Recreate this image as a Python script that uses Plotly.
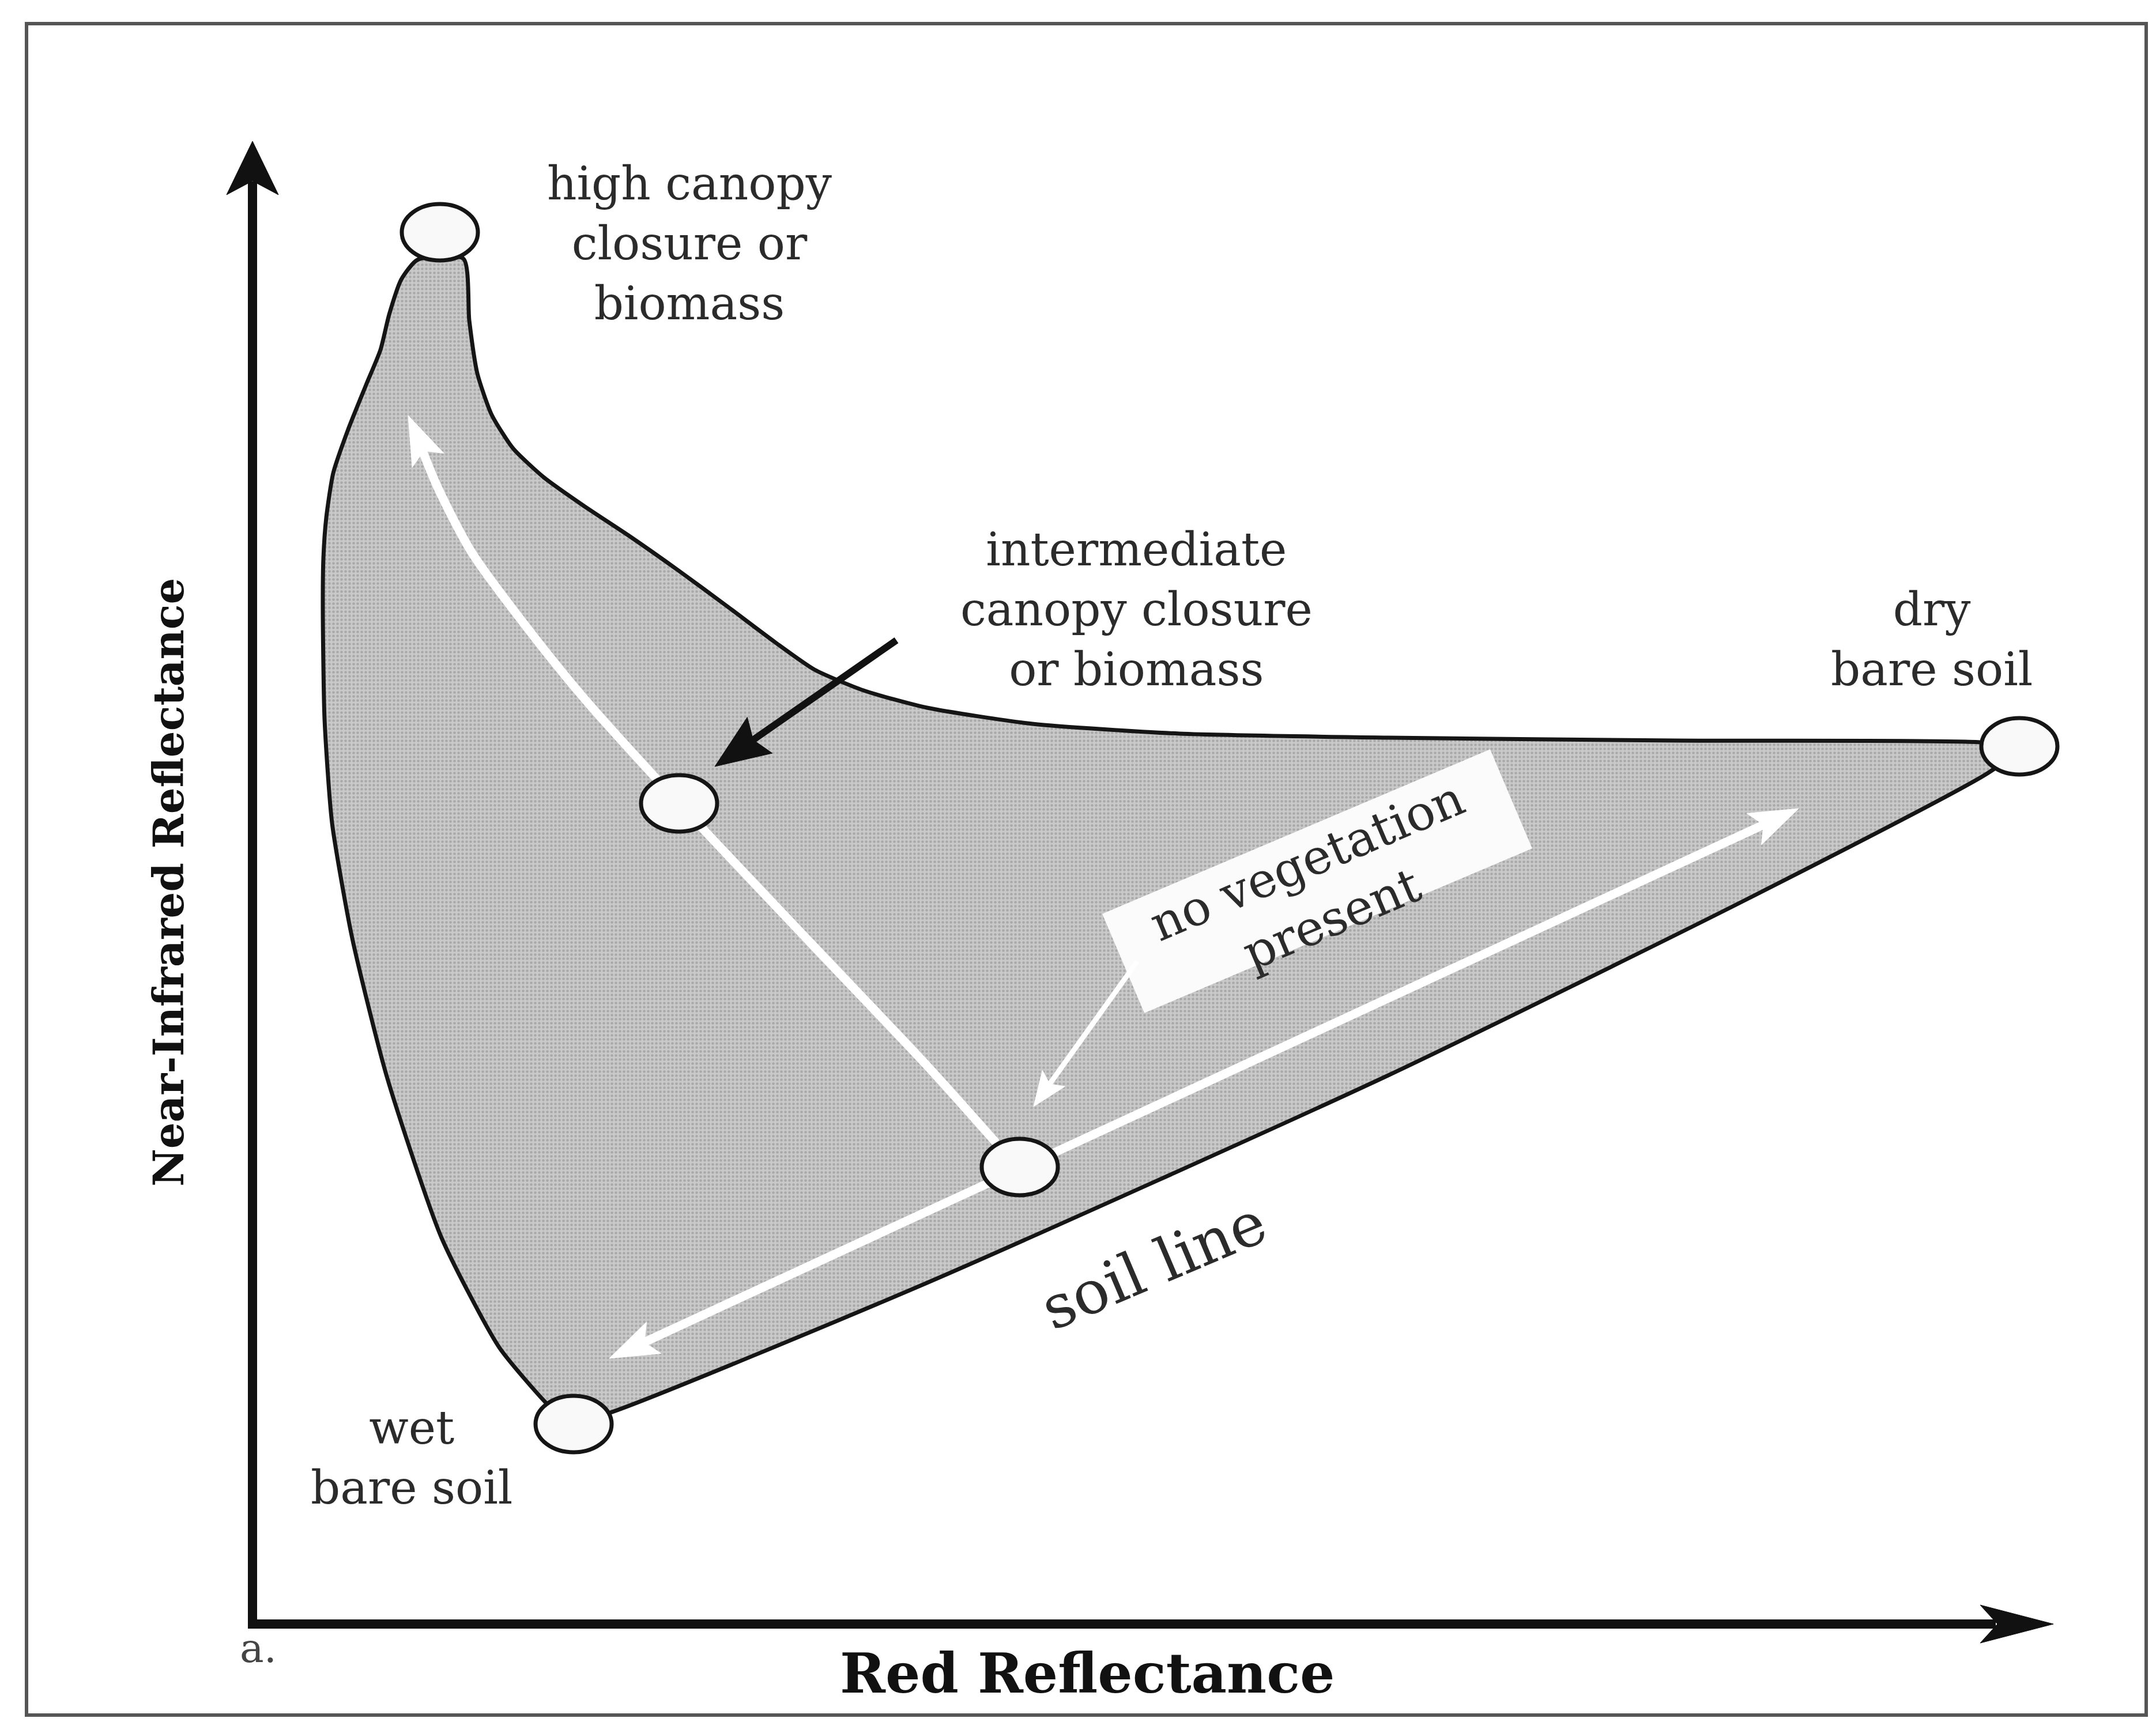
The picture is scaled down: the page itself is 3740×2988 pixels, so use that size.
import numpy as np
import plotly.graph_objects as go

W, H = 3740, 2988

# --- diagram data (x = red reflectance, y = near-infrared reflectance, figure units) ---
# outline of the vegetation / soil region: left edge, soil edge, upper edge
outline_x = [716, 688, 667, 652, 627, 596, 570, 558, 553, 552, 555, 568, 603, 663, 758, 858, 938, 975,
             1045, 1600, 2400, 3023, 3441, 3495,
             3430, 2900, 2400, 2038, 1783, 1600, 1490, 1405, 1336, 1252, 1169, 1085, 1005, 935, 882, 845,
             820, 806, 796]
outline_y = [2545, 2511, 2450, 2389, 2328, 2251, 2175, 2098, 2028, 1938, 1748, 1568, 1368, 1128, 848, 658, 563, 528,
             543, 770, 1130, 1436, 1655, 1698,
             1708, 1711, 1716, 1723, 1740, 1768, 1798, 1834, 1882, 1945, 2006, 2065, 2118, 2168, 2218, 2276,
             2348, 2440, 2547]

# marked states (open circles)
point_names = ["high canopy", "intermediate", "soil line middle", "wet bare soil", "dry bare soil"]
point_x = [755, 1170, 1761, 987, 3495]
point_y = [2593, 1602, 971, 525, 1701]

# white arrow: increasing canopy closure / biomass
veg_x = [1720, 1600, 1400, 1170, 1002, 890, 810, 750, 712, 700]
veg_y = [1013, 1147, 1358, 1602, 1788, 1928, 2038, 2153, 2248, 2275]

# white double arrow along the soil line
soil_x = [1049, 3112]
soil_y = [639, 1593]

# thin white arrow from the "no vegetation present" box
novg_x = [1965, 1785]
novg_y = [1328, 1076]

# black pointer to the intermediate state
ptr_x = [1547, 1232]
ptr_y = [1885, 1666]

# axes: origin, top of NIR axis, end of red axis
axis_x = [430, 430, 3554]
axis_y = [178, 2751, 178]

# labels: text, centre x, centre y
label_text = ["high canopy<br>closure or<br>biomass",
              "intermediate<br>canopy closure<br>or biomass",
              "dry<br>bare soil",
              "wet<br>bare soil"]
label_x = [1188, 1963, 3343, 706]
label_y = [2574, 1939, 1887, 467]

SERIF = "DejaVu Serif"
INK = "#2b2b2b"


def head(tip_x, tip_y, from_x, from_y, length, half, notch):
    d = np.array([tip_x - from_x, tip_y - from_y], dtype=float)
    d /= np.hypot(*d)
    n = np.array([-d[1], d[0]])
    tip = np.array([tip_x, tip_y], dtype=float)
    base = tip - d * length
    b1 = base + n * half
    b2 = base - n * half
    nt = tip - d * (length - notch)
    pts = [tip, b1, nt, b2, tip]
    return [p[0] for p in pts], [p[1] for p in pts]


def trim(xs, ys, length, at_end=True):
    xs = list(map(float, xs))
    ys = list(map(float, ys))
    if at_end:
        d = np.array([xs[-1] - xs[-2], ys[-1] - ys[-2]])
        d /= np.hypot(*d)
        xs[-1] -= d[0] * length
        ys[-1] -= d[1] * length
    else:
        d = np.array([xs[0] - xs[1], ys[0] - ys[1]])
        d /= np.hypot(*d)
        xs[0] -= d[0] * length
        ys[0] -= d[1] * length
    return xs, ys


def filled(xs, ys, color):
    return go.Scatter(x=xs, y=ys, mode="lines", fill="toself", fillcolor=color,
                      line=dict(color=color, width=1), hoverinfo="skip", showlegend=False)


fig = go.Figure()

# shaded region
fig.add_trace(go.Scatter(
    x=outline_x + [outline_x[0]], y=outline_y + [outline_y[0]],
    mode="lines", fill="toself",
    fillcolor="#c2c2c2",
    fillpattern=dict(shape=".", fgcolor="#8a8a8a", bgcolor="#c9c9c9", size=7, solidity=0.35),
    line=dict(color="#151515", width=7, shape="spline", smoothing=0.6),
    hoverinfo="skip", showlegend=False))

# white arrows
vx, vy = trim(veg_x, veg_y, 60)
fig.add_trace(go.Scatter(x=vx, y=vy, mode="lines",
                         line=dict(color="white", width=15, shape="spline", smoothing=0.8),
                         hoverinfo="skip", showlegend=False))
hx, hy = head(veg_x[-1], veg_y[-1], veg_x[-2], veg_y[-2], 85, 30, 18)
fig.add_trace(filled(hx, hy, "white"))

sx, sy = trim(soil_x, soil_y, 60)
sx, sy = trim(sx, sy, 60, at_end=False)
fig.add_trace(go.Scatter(x=sx, y=sy, mode="lines", line=dict(color="white", width=15),
                         hoverinfo="skip", showlegend=False))
for a, b in [(1, 0), (0, 1)]:
    hx, hy = head(soil_x[a], soil_y[a], soil_x[b], soil_y[b], 85, 30, 18)
    fig.add_trace(filled(hx, hy, "white"))

# "no vegetation present" box
bc = np.array([2277.0, 1467.0])
ang = np.deg2rad(23)
u = np.array([np.cos(ang), np.sin(ang)])
v = np.array([-np.sin(ang), np.cos(ang)])
corners = [bc - u * 365 - v * 93, bc + u * 365 - v * 93, bc + u * 365 + v * 93, bc - u * 365 + v * 93]
corners.append(corners[0])
fig.add_trace(filled([c[0] for c in corners], [c[1] for c in corners], "#fbfbfb"))

nx, ny = trim(novg_x, novg_y, 40)
fig.add_trace(go.Scatter(x=nx, y=ny, mode="lines", line=dict(color="white", width=9),
                         hoverinfo="skip", showlegend=False))
hx, hy = head(novg_x[1], novg_y[1], novg_x[0], novg_y[0], 60, 24, 12)
fig.add_trace(filled(hx, hy, "white"))

# black pointer arrow
px_, py_ = trim(ptr_x, ptr_y, 60)
fig.add_trace(go.Scatter(x=px_, y=py_, mode="lines", line=dict(color="#111111", width=12),
                         hoverinfo="skip", showlegend=False))
hx, hy = head(ptr_x[1], ptr_y[1], ptr_x[0], ptr_y[0], 95, 38, 14)
fig.add_trace(filled(hx, hy, "#111111"))

# axes with arrow heads
fig.add_trace(go.Scatter(x=[axis_x[1], axis_x[0], axis_x[2] - 100], y=[axis_y[1] - 70, axis_y[0], axis_y[2]],
                         mode="lines", line=dict(color="#111111", width=16),
                         hoverinfo="skip", showlegend=False))
hx, hy = head(axis_x[1], axis_y[1], axis_x[0], axis_y[0], 93, 45, 24)
fig.add_trace(filled(hx, hy, "#111111"))
hx, hy = head(axis_x[2], axis_y[2], axis_x[0], axis_y[0], 127, 33, 30)
fig.add_trace(filled(hx, hy, "#111111"))

# open circles
shapes = []
for cx, cy in zip(point_x, point_y):
    shapes.append(dict(type="circle", xref="x", yref="y", layer="above",
                       x0=cx - 66, x1=cx + 66, y0=cy - 49, y1=cy + 49,
                       fillcolor="#f9f9f9", line=dict(color="#151515", width=7)))
# outer frame
shapes.append(dict(type="rect", xref="x", yref="y", x0=38, x1=3715, y0=20, y1=2955,
                   line=dict(color="#555555", width=6), layer="below"))

annotations = []
for t, x, y in zip(label_text, label_x, label_y):
    annotations.append(dict(text=t, x=x, y=y, xref="x", yref="y", showarrow=False,
                            xanchor="center", yanchor="middle", align="center",
                            font=dict(family=SERIF, size=80, color=INK)))

annotations.append(dict(text="no vegetation<br>present", x=2280, y=1452, xref="x", yref="y",
                        showarrow=False, textangle=-23, xanchor="center", yanchor="middle",
                        font=dict(family=SERIF, size=84, color=INK)))
annotations.append(dict(text="soil line", x=1993, y=800, xref="x", yref="y",
                        showarrow=False, textangle=-23, xanchor="center", yanchor="middle",
                        font=dict(family=SERIF, size=104, color=INK)))
annotations.append(dict(text="Red Reflectance", x=1878, y=93, xref="x", yref="y",
                        showarrow=False, xanchor="center", yanchor="middle",
                        font=dict(family=SERIF, size=95, color="#111111", weight="bold")))
annotations.append(dict(text="Near-Infrared Reflectance", x=284, y=1465, xref="x", yref="y",
                        showarrow=False, textangle=-90, xanchor="center", yanchor="middle",
                        font=dict(family=SERIF, size=72, color="#111111", weight="bold")))
annotations.append(dict(text="a.", x=440, y=136, xref="x", yref="y",
                        showarrow=False, xanchor="center", yanchor="middle",
                        font=dict(family=SERIF, size=70, color="#444444")))

fig.update_layout(
    width=W, height=H,
    margin=dict(l=0, r=0, t=0, b=0, pad=0),
    paper_bgcolor="white", plot_bgcolor="white",
    xaxis=dict(range=[0, W], visible=False, showgrid=False, zeroline=False, fixedrange=True),
    yaxis=dict(range=[0, H], visible=False, showgrid=False, zeroline=False, fixedrange=True),
    shapes=shapes, annotations=annotations, showlegend=False,
)

fig.write_html("out.html")
